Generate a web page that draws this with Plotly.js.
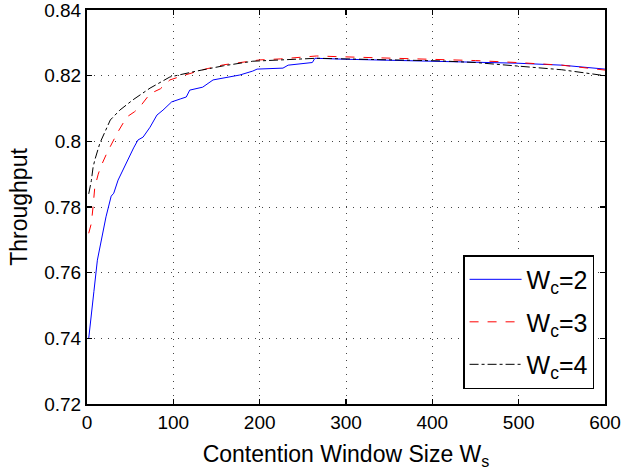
<!DOCTYPE html>
<html>
<head>
<meta charset="utf-8">
<script src="https://cdn.plot.ly/plotly-3.0.1.min.js"></script>
<style>html,body{margin:0;padding:0;background:#fff;}#chart{width:625px;height:472px;}</style>
</head>
<body>
<div id="chart"></div>
<script>
var blueX = [2,5,8,12,17,22,28,31,36,42,48,54,59,65,73,81,88,92,98,108,115,119,134,146,158,177,192,197,227,233,261,264,300,350,409,450,498,550,600];
var blueY = [0.740,0.748,0.7543,0.7638,0.770,0.777,0.7833,0.7842,0.7882,0.7915,0.7950,0.798,0.8004,0.8013,0.8043,0.808,0.8095,0.8104,0.812,0.8129,0.8135,0.8156,0.8165,0.8187,0.8193,0.8202,0.8214,0.822,0.8223,0.8232,0.824,0.8253,0.8250,0.8247,0.8245,0.8243,0.8238,0.8232,0.822];
var redX = [2,5,7,9,13,16,23,29,35,46,55,61,73,85,96,111,134,158,177,200,224,243,266,289,350,409,450,498,550,600];
var redY = [0.772,0.775,0.780,0.786,0.790,0.7923,0.7964,0.7995,0.8025,0.8074,0.809,0.8104,0.8145,0.816,0.8187,0.820,0.8218,0.8233,0.824,0.8248,0.8251,0.8256,0.826,0.8258,0.8254,0.825,0.8246,0.824,0.8232,0.8217];
var blackX = [2,5,7,9,15,21,27,38,53,73,96,127,158,192,224,266,300,350,409,450,498,550,600];
var blackY = [0.784,0.788,0.792,0.7943,0.7995,0.803,0.8065,0.8095,0.8126,0.8162,0.8196,0.8214,0.823,0.8244,0.8248,0.8253,0.8251,0.8248,0.8245,0.8240,0.823,0.8218,0.8200];
var seriesNames = ['W<sub>c</sub>=2','W<sub>c</sub>=3','W<sub>c</sub>=4'];
var yTickVals = [0.72,0.74,0.76,0.78,0.8,0.82,0.84];
var yTickText = ['0.72','0.74','0.76','0.78','0.8','0.82','0.84'];
var xTickVals = [0,100,200,300,400,500,600];

var font = 'Liberation Sans, Arial, Helvetica, sans-serif';
var traces = [
  {x: blueX, y: blueY, name: seriesNames[0], mode: 'lines', legendgroup: 'a', line: {color: '#0000ff', width: 1}},
  {x: redX, y: redY, name: seriesNames[1], mode: 'lines', legendgroup: 'b', line: {color: '#ff0000', width: 1, dash: 'dash'}},
  {x: blackX, y: blackY, name: seriesNames[2], mode: 'lines', legendgroup: 'c', line: {color: '#000000', width: 1, dash: 'dashdot'}}
];
var axisCommon = {
  showline: true, linecolor: '#000', linewidth: 2, mirror: 'ticks',
  ticks: 'inside', ticklen: 5, tickwidth: 1.5, tickcolor: '#000',
  showgrid: true, gridcolor: '#444', griddash: '1px,6px', gridwidth: 1,
  zeroline: false, ticklabeloverflow: 'allow',
  tickfont: {family: font, size: 19, color: '#000'}
};
var layout = {
  width: 625, height: 472,
  margin: {l: 87, r: 20, t: 10, b: 68},
  paper_bgcolor: '#fff', plot_bgcolor: '#fff',
  font: {family: font, color: '#000'},
  xaxis: Object.assign({}, axisCommon, {
    range: [0, 600], tickvals: xTickVals,
    title: {text: 'Contention Window Size W<sub>s</sub>', font: {family: font, size: 23}, standoff: 14}
  }),
  yaxis: Object.assign({}, axisCommon, {
    range: [0.72, 0.84], tickvals: yTickVals, ticktext: yTickText,
    title: {text: 'Throughput', font: {family: font, size: 23}, standoff: 10}
  }),
  showlegend: true,
  legend: {
    x: 0.726, y: 0.378, xanchor: 'left', yanchor: 'top',
    bgcolor: '#fff', bordercolor: '#000', borderwidth: 1.5,
    font: {family: font, size: 25, color: '#000'},
    tracegroupgap: 7, traceorder: 'grouped', itemwidth: 52
  }
};
Plotly.newPlot('chart', traces, layout, {displayModeBar: false, staticPlot: true});
</script>
</body>
</html>
